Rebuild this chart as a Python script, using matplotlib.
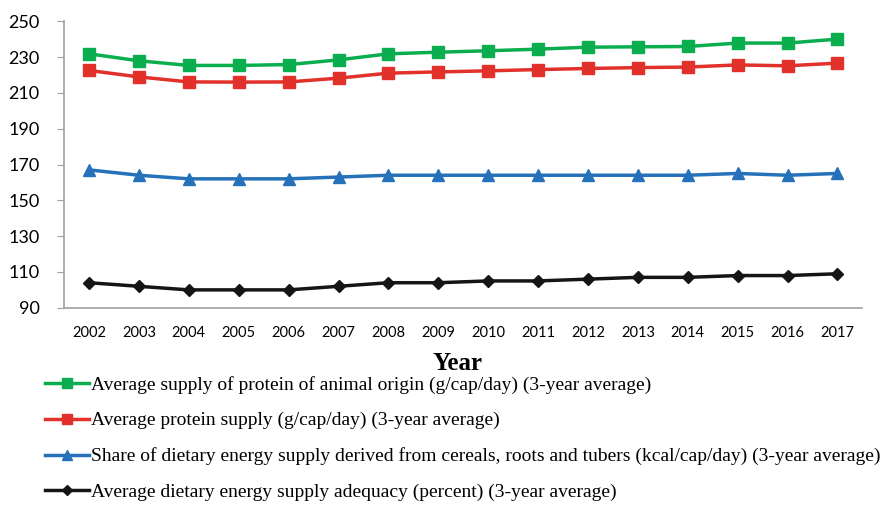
import matplotlib.pyplot as plt

# Data
years = [str(y) for y in range(2002, 2018)]
animal_protein = [231.8, 227.9, 225.3, 225.3, 225.8, 228.4, 231.8, 232.7,
                  233.5, 234.4, 235.5, 235.7, 235.9, 237.8, 237.8, 240.0]
protein_supply = [222.5, 218.9, 216.1, 216.0, 216.1, 218.2, 221.0, 221.7,
                  222.3, 223.0, 223.6, 224.1, 224.4, 225.6, 225.1, 226.6]
cereal_share = [167, 164, 162, 162, 162, 163, 164, 164,
                164, 164, 164, 164, 164, 165, 164, 165]
energy_adequacy = [104, 102, 100, 100, 100, 102, 104, 104,
                   105, 105, 106, 107, 107, 108, 108, 109]
yticks = [90, 110, 130, 150, 170, 190, 210, 230, 250]

labels = [
    'Average supply of protein of animal origin (g/cap/day) (3-year average)',
    'Average protein supply (g/cap/day) (3-year average)',
    'Share of dietary energy supply derived from cereals, roots and tubers (kcal/cap/day) (3-year average)',
    'Average dietary energy supply adequacy (percent) (3-year average)',
]

fig = plt.figure(figsize=(8.9, 5.05), dpi=100)
ax = fig.add_axes([0.072, 0.3905, 0.897, 0.5675])

x = range(len(years))
ax.plot(x, animal_protein, color='#0BAE4F', lw=2.5, marker='s', ms=8.5, label=labels[0])
ax.plot(x, protein_supply, color='#E2312A', lw=2.5, marker='s', ms=8.5, label=labels[1])
ax.plot(x, cereal_share, color='#2672BA', lw=2.5, marker='^', ms=9, label=labels[2])
ax.plot(x, energy_adequacy, color='#151515', lw=2.5, marker='D', ms=6.5, label=labels[3])

ax.set_xlim(-0.5, len(years) - 0.5)
ax.set_ylim(90, 250)
ax.set_xticks(list(x))
ax.set_xticklabels(years, fontsize=10.5, family='Lato')
ax.set_yticks(yticks)
ax.set_yticklabels([str(v) for v in yticks], fontsize=13, family='Lato')
ax.tick_params(axis='x', length=0, pad=13)
ax.tick_params(axis='y', length=5, color='#A0A0A0', pad=12.5)

for s in ['top', 'right']:
    ax.spines[s].set_visible(False)
for s in ['left', 'bottom']:
    ax.spines[s].set_color('#A0A0A0')
    ax.spines[s].set_linewidth(1.2)

ax.set_xlabel('Year', fontsize=18, fontweight='bold', family='Liberation Serif', labelpad=8.5)
ax.xaxis.label.set_x(0.493)

fig.legend(loc='upper left', bbox_to_anchor=(0.05, 0.256), frameon=False,
           prop={'family': 'Liberation Serif', 'size': 14},
           handlelength=2.3, handletextpad=0.1, labelspacing=0.93,
           borderpad=0, borderaxespad=0, markerscale=0.85)

fig.savefig('out.png', dpi=100)
